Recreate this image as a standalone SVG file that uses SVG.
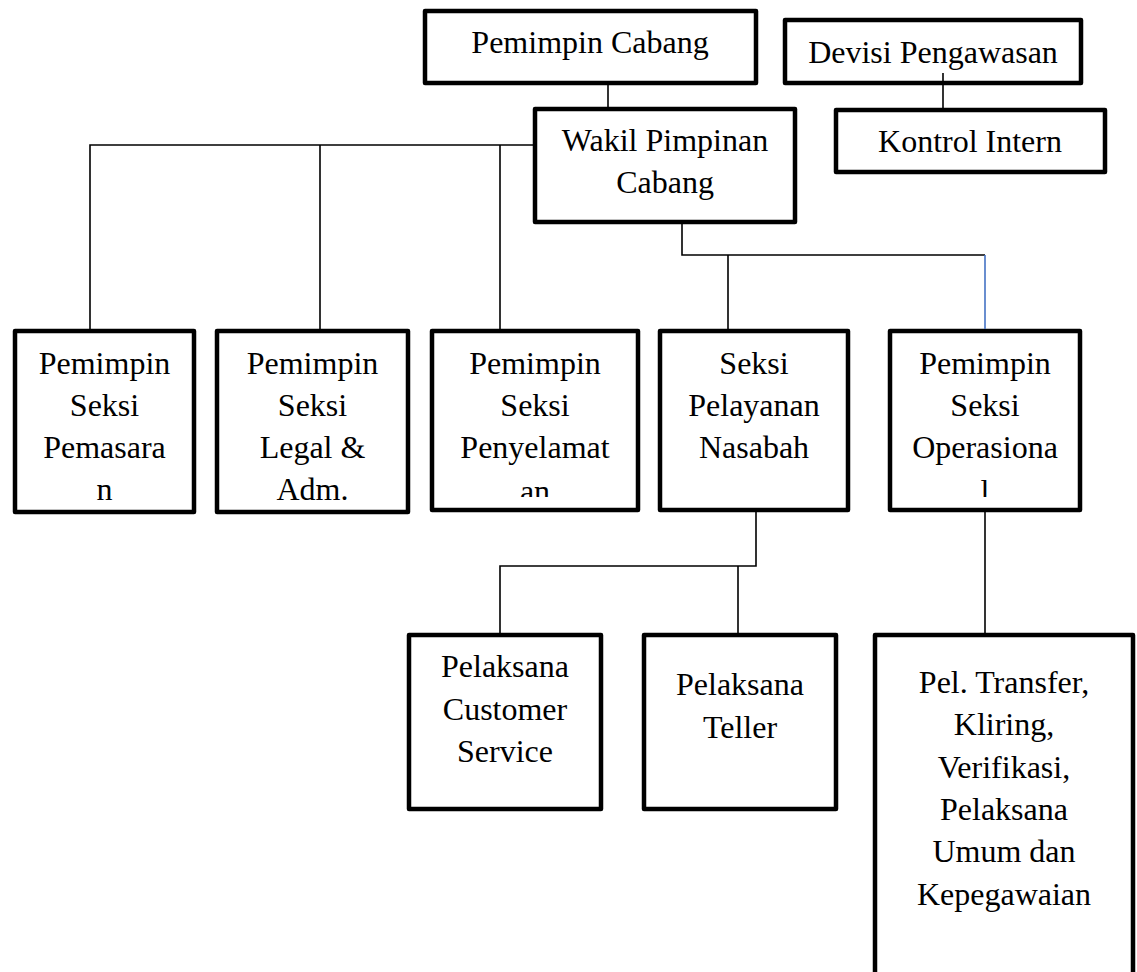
<svg xmlns="http://www.w3.org/2000/svg" width="1137" height="972" viewBox="0 0 1137 972">
<style>
.box{fill:#fff;stroke:#000;stroke-width:4.5;stroke-linejoin:round}
.ln{fill:none;stroke:#000;stroke-width:1.6}
.blue{fill:none;stroke:#4472C4;stroke-width:1.6}
text{font-family:"Liberation Serif","Times New Roman",serif;font-size:32px;fill:#000;text-anchor:middle}
</style>
<defs>
<clipPath id="c3"><rect x="432" y="331" width="206" height="166"/></clipPath>
<clipPath id="c5"><rect x="890" y="331" width="190" height="166"/></clipPath>
</defs>
<rect width="1137" height="972" fill="#fff"/>
<g id="pemimpin-cabang"><rect class="box" x="425" y="11" width="331" height="72"/><text x="590" y="53">Pemimpin Cabang</text></g>
<g id="devisi-pengawasan"><rect class="box" x="785" y="20" width="296" height="63"/><text x="933" y="63">Devisi Pengawasan</text></g>
<g id="kontrol-intern"><rect class="box" x="836" y="110" width="269" height="62"/><text x="970" y="152">Kontrol Intern</text></g>
<g id="wakil-pimpinan"><rect class="box" x="535" y="109" width="260" height="113"/><text x="665" y="151">Wakil Pimpinan</text><text x="665" y="193">Cabang</text></g>
<g id="seksi-pemasaran"><rect class="box" x="15" y="331" width="179" height="181"/><text x="104.5" y="374">Pemimpin</text><text x="104.5" y="416">Seksi</text><text x="104.5" y="458">Pemasara</text><text x="104.5" y="500">n</text></g>
<g id="seksi-legal"><rect class="box" x="217" y="331" width="191" height="181"/><text x="312.5" y="374">Pemimpin</text><text x="312.5" y="416">Seksi</text><text x="312.5" y="458">Legal &amp;</text><text x="312.5" y="500">Adm.</text></g>
<g id="seksi-penyelamatan"><rect class="box" x="432" y="331" width="206" height="179"/><text x="535" y="374">Pemimpin</text><text x="535" y="416">Seksi</text><text x="535" y="458">Penyelamat</text><text x="535" y="502" clip-path="url(#c3)">an</text></g>
<g id="seksi-pelayanan"><rect class="box" x="660" y="331" width="188" height="179"/><text x="754" y="374">Seksi</text><text x="754" y="416">Pelayanan</text><text x="754" y="458">Nasabah</text></g>
<g id="seksi-operasional"><rect class="box" x="890" y="331" width="190" height="179"/><text x="985" y="374">Pemimpin</text><text x="985" y="416">Seksi</text><text x="985" y="458">Operasiona</text><text x="985" y="502" clip-path="url(#c5)">l</text></g>
<g id="customer-service"><rect class="box" x="409" y="635" width="192" height="174"/><text x="505" y="677">Pelaksana</text><text x="505" y="720">Customer</text><text x="505" y="762">Service</text></g>
<g id="teller"><rect class="box" x="644" y="635" width="192" height="174"/><text x="740" y="695">Pelaksana</text><text x="740" y="738">Teller</text></g>
<g id="pel-transfer"><rect class="box" x="875" y="635" width="258" height="345"/><text x="1004" y="693">Pel. Transfer,</text><text x="1004" y="735">Kliring,</text><text x="1004" y="778">Verifikasi,</text><text x="1004" y="820">Pelaksana</text><text x="1004" y="862">Umum dan</text><text x="1004" y="905">Kepegawaian</text></g>
<g id="connectors">
<path class="ln" d="M608 85V107"/>
<path class="ln" d="M943 73V108"/>
<path class="ln" d="M533 145H90V329M320 145V329M500 145V329"/>
<path class="ln" d="M682 224V255H985M728 255V329"/>
<path class="blue" d="M985 255V329"/>
<path class="ln" d="M756 511V566H500V633M738 566V633"/>
<path class="ln" d="M985 511V633"/>
</g>
</svg>
